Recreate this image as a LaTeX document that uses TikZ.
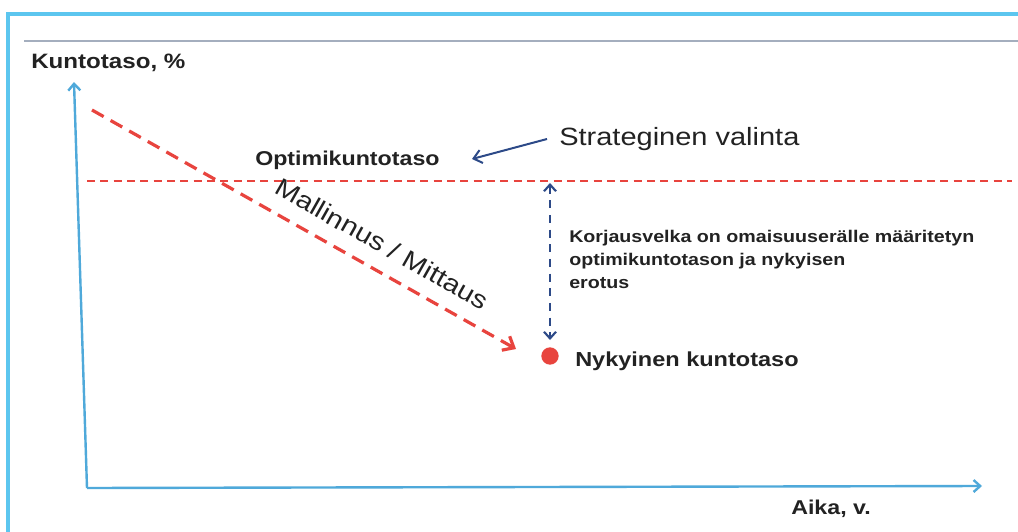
\documentclass[tikz,border=0pt]{standalone}
\usepackage{fontspec}
\setmainfont[FakeStretch=1.16]{Liberation Sans}
\usetikzlibrary{arrows.meta}
\definecolor{frameblue}{HTML}{5CC6EF}
\definecolor{axisblue}{HTML}{4FA9DA}
\definecolor{ruleGray}{HTML}{A4AEBE}
\definecolor{dashred}{HTML}{E8443E}
\definecolor{navy}{HTML}{2D4A88}
\definecolor{txt}{HTML}{222222}
\tikzset{
  lbl/.style={inner sep=0pt, text=txt, anchor=base west},
  axis/.style={draw=axisblue, line width=1.8pt, -{Straight Barb[length=5pt,width=9pt]}},
  redarrow/.style={draw=dashred, line width=2.4pt, dash pattern=on 10pt off 6pt, -{Straight Barb[length=7pt,width=12pt]}},
  redline/.style={draw=dashred, line width=1.2pt, dash pattern=on 6pt off 4pt},
  navyarrow/.style={draw=navy, line width=1.5pt, -{Straight Barb[length=6pt,width=10pt]}},
  navydash/.style={draw=navy, line width=1.6pt, dash pattern=on 6pt off 5pt, {Straight Barb[length=5pt,width=9pt]}-{Straight Barb[length=5pt,width=9pt]}},
}
\begin{document}
\begin{tikzpicture}[x=0.75pt,y=-0.75pt]
\useasboundingbox (0,0) rectangle (1018,532);
\fill[white] (0,0) rectangle (1018,532);
% frame
\coordinate (fbl) at (8,532);
\coordinate (ftl) at (8,14);
\coordinate (ftr) at (1018,14);
\draw[frameblue, line width=2.4pt] (fbl) -- (ftl) -- (ftr);
% gray rule
\coordinate (gl) at (24,41);
\coordinate (gr) at (1018,41);
\draw[ruleGray, line width=2pt] (gl) -- (gr);
% axes
\coordinate (o) at (87,488);
\coordinate (yt) at (74,82);
\coordinate (xe) at (982,486);
\draw[axis] (o) -- (yt);
\draw[axis] (o) -- (xe);
\node[lbl, font=\fontsize{15.6pt}{18pt}\selectfont\bfseries] (ylab) at (31,68) {Kuntotaso, \%};
\node[lbl, font=\fontsize{15pt}{18pt}\selectfont\bfseries] (xlab) at (791,514) {Aika, v.};
% optimum level
\coordinate (hl) at (87,181);
\coordinate (hr) at (1012,181);
\draw[redline] (hl) -- (hr);
\node[lbl, font=\fontsize{15pt}{18pt}\selectfont\bfseries] (opt) at (255,165) {Optimikuntotaso};
\node[lbl, font=\fontsize{18.75pt}{22pt}\selectfont] (strat) at (559,145) {Strateginen valinta};
\coordinate (sa) at (547,139);
\coordinate (se) at (472,159);
\draw[navyarrow] (sa) -- (se);
% modelling arrow
\coordinate (ds) at (92,110);
\coordinate (de) at (516,349);
\draw[redarrow] (ds) -- (de);
\node[inner sep=0pt, text=txt, font=\fontsize{18.75pt}{22pt}\selectfont, rotate=-29.5] (mall) at (382,244) {Mallinnus / Mittaus};
% current level
\node[circle, fill=dashred, inner sep=0pt, minimum size=13pt] (dot) at (550,356) {};
\node[lbl, font=\fontsize{15.2pt}{18pt}\selectfont\bfseries] (nyk) at (575,366) {Nykyinen kuntotaso};
\coordinate (vt) at (550,183);
\coordinate (vb) at (550,340);
\draw[navydash] (vt) -- (vb);
\node[lbl, font=\fontsize{12.7pt}{17.25pt}\selectfont\bfseries, align=left, anchor=north west] (korj) at (569,230) {Korjausvelka on omaisuuserälle määritetyn\\optimikuntotason ja nykyisen\\erotus};
\end{tikzpicture}
\end{document}
